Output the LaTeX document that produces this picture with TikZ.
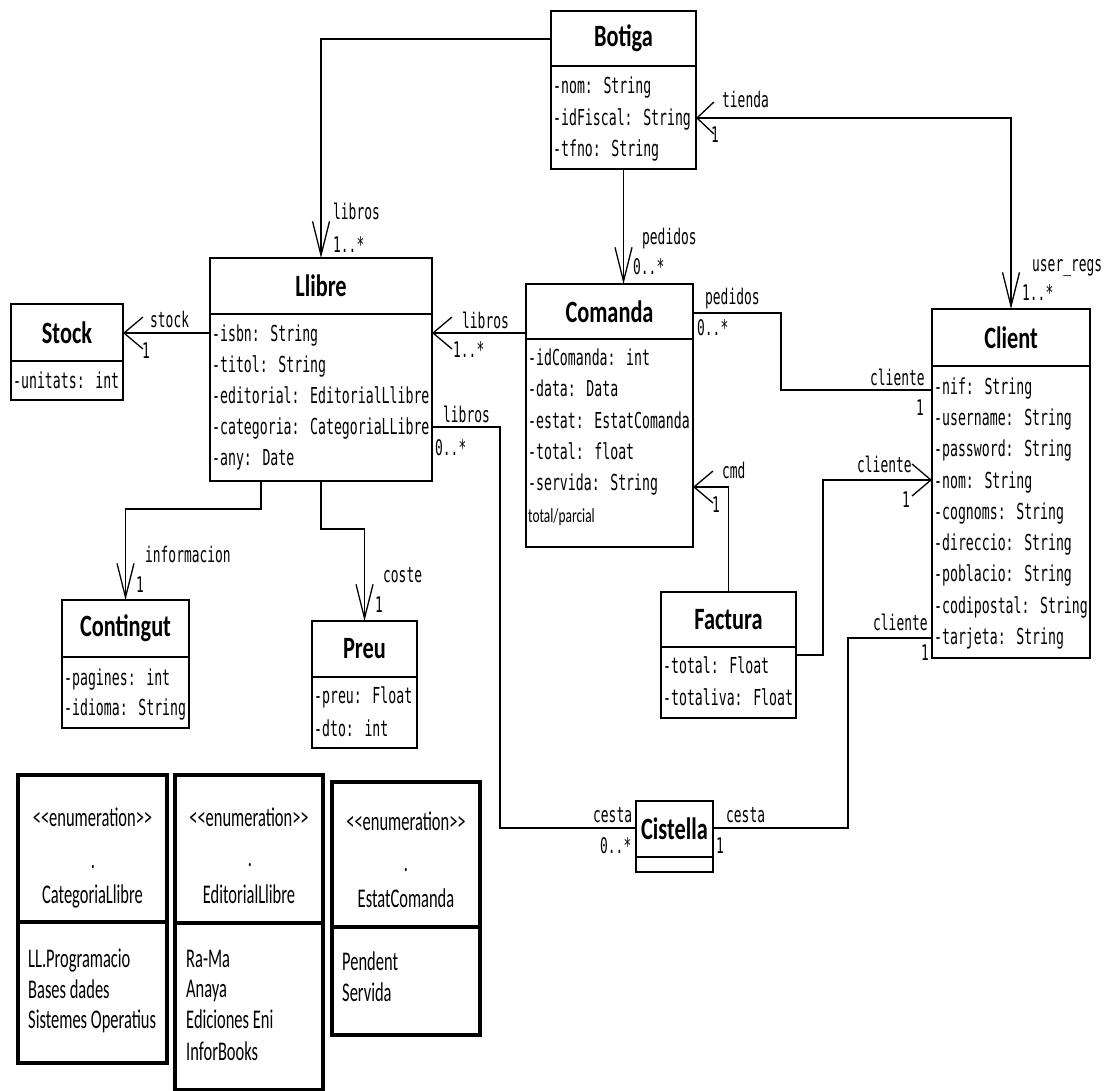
\documentclass[tikz,border=0pt]{standalone}
\usepackage{fontspec}
\usetikzlibrary{arrows.meta}
\newfontfamily\monof{DejaVu Sans Mono}[FakeStretch=0.6]
\newfontfamily\ttlf{Carlito}[FakeStretch=0.72]
\newfontfamily\enf{Carlito}[FakeStretch=0.61]
\newfontfamily\smf{Carlito}[FakeStretch=0.67]
\tikzset{
  clsbox/.style={draw, line width=1.4pt, inner sep=0pt, outer sep=0pt},
  clsline/.style={line width=1.4pt},
  clstitle/.style={font=\ttlf\bfseries\fontsize{31}{31}\selectfont, inner sep=0pt},
  attr/.style={font=\monof\fontsize{22}{24}\selectfont, inner sep=0pt, anchor=base west},
  lbl/.style={font=\monof\fontsize{21.5}{24}\selectfont, inner sep=0pt, anchor=base west},
  smalltxt/.style={font=\smf\fontsize{20}{24}\selectfont, inner sep=0pt, anchor=base west},
  enumbox/.style={draw, line width=3.5pt, inner sep=0pt, outer sep=0pt},
  enumline/.style={line width=3.5pt},
  enumtxt/.style={font=\enf\fontsize{27}{30}\selectfont, inner sep=0pt, anchor=base},
  enumitem/.style={font=\enf\fontsize{27}{30}\selectfont, inner sep=0pt, anchor=base west},
  assoc/.style={line width=1.3pt},
  harr/.style={assoc, -{Straight Barb[length=19pt,width=32pt]}},
  varr/.style={assoc, -{Straight Barb[length=34pt,width=17pt]}},
  hvarr/.style={assoc, {Straight Barb[length=17pt,width=32pt]}-{Straight Barb[length=34pt,width=17pt]}}
}
% name, x1, y1, x2, y2, ysep, title
\newcommand{\umlcls}[7]{%
  \node[clsbox, minimum width={#4-#2}, minimum height={#5-#3}] (#1) at ({(#2+#4)/2},{(#3+#5)/2}) {};
  \draw[clsline] (#2,#6) -- (#4,#6);
  \node[clstitle] (#1T) at ({(#2+#4)/2},{(#3+#6)/2}) {#7};
}
\newcommand{\attrib}[4]{\node[attr] (#1) at (#2,#3) {#4};}
\newcommand{\lab}[4]{\node[lbl] (#1) at (#2,#3) {#4};}
\begin{document}
\begin{tikzpicture}[x=1pt,y=-1pt]
\fill[white] (0,0) rectangle (1105,1091);
\useasboundingbox (0,0) rectangle (1105,1091);

% ---- classes
\umlcls{Botiga}{551}{11}{696}{169}{66}{Botiga}
\attrib{bo1}{553}{94}{-nom: String}
\attrib{bo2}{553}{126}{-idFiscal: String}
\attrib{bo3}{553}{157}{-tfno: String}

\umlcls{Llibre}{210}{258}{432}{481}{314}{Llibre}
\attrib{ll1}{212}{341}{-isbn: String}
\attrib{ll2}{212}{372}{-titol: String}
\attrib{ll3}{212}{403}{-editorial: EditorialLlibre}
\attrib{ll4}{212}{434}{-categoria: CategoriaLLibre}
\attrib{ll5}{212}{465}{-any: Date}

\umlcls{Stock}{11}{304}{123}{400}{361}{Stock}
\attrib{st1}{13}{388}{-unitats: int}

\umlcls{Comanda}{526}{284}{693}{547}{339}{Comanda}
\attrib{co1}{528}{365}{-idComanda: int}
\attrib{co2}{528}{396}{-data: Data}
\attrib{co3}{528}{428}{-estat: EstatComanda}
\attrib{co4}{528}{459}{-total: float}
\attrib{co5}{528}{490}{-servida: String}
\node[smalltxt] (co6) at (528,522) {total/parcial};

\umlcls{Client}{932}{309}{1090}{658}{366}{Client}
\attrib{cl1}{934}{394}{-nif: String}
\attrib{cl2}{934}{425}{-username: String}
\attrib{cl3}{934}{456}{-password: String}
\attrib{cl4}{934}{488}{-nom: String}
\attrib{cl5}{934}{519}{-cognoms: String}
\attrib{cl6}{934}{550}{-direccio: String}
\attrib{cl7}{934}{581}{-poblacio: String}
\attrib{cl8}{934}{613}{-codipostal: String}
\attrib{cl9}{934}{644}{-tarjeta: String}

\umlcls{Contingut}{62}{600}{189}{728}{657}{Contingut}
\attrib{cn1}{64}{685}{-pagines: int}
\attrib{cn2}{64}{715}{-idioma: String}

\umlcls{Preu}{312}{621}{417}{748}{677}{Preu}
\attrib{pr1}{314}{703}{-preu: Float}
\attrib{pr2}{314}{736}{-dto: int}

\umlcls{Factura}{661}{592}{796}{718}{647}{Factura}
\attrib{fa1}{663}{673}{-total: Float}
\attrib{fa2}{663}{705}{-totaliva: Float}

\umlcls{Cistella}{636}{801}{713}{872}{857}{Cistella}

% ---- associations
\draw[varr] ([yshift=-28pt]Botiga.north west) -| (Llibre.north);
\lab{l1a}{333}{220}{libros}
\lab{l1b}{333}{253}{1..*}

\draw[varr] (Botiga.south) -- (Botiga.south |- Comanda.north);
\lab{l2a}{642}{245}{pedidos}
\lab{l2b}{633}{275}{0..*}

\draw[hvarr] ([yshift=-107pt]Botiga.north east) -| (Client.north);
\lab{l3a}{722}{108}{tienda}
\lab{l3b}{711}{143}{1}
\lab{l3c}{1032}{272}{user\_regs}
\lab{l3d}{1022}{300}{1..*}

\draw[harr] ([yshift=-75pt]Llibre.north west) -- ([yshift=-29pt]Stock.north east);
\lab{l4a}{150}{327}{stock}
\lab{l4b}{142}{358}{1}

\draw[harr] ([yshift=-49pt]Comanda.north west) -- ([yshift=-75pt]Llibre.north east);
\lab{l5a}{462}{328}{libros}
\lab{l5b}{453}{357}{1..*}

\draw[assoc] ([yshift=-169pt]Llibre.north east) -- ++(68,0) |- ([yshift=-27pt]Cistella.north west);
\lab{l6a}{443}{422}{libros}
\lab{l6b}{435}{455}{0..*}
\lab{l6c}{593}{822}{cesta}
\lab{l6d}{600}{853}{0..*}

\draw[assoc] ([yshift=-27pt]Cistella.north east) -- ++(135,0) |- ([yshift=-329pt]Client.north west);
\lab{l7a}{726}{822}{cesta}
\lab{l7b}{716}{853}{1}
\lab{l7c}{873}{630}{cliente}
\lab{l7d}{921}{660}{1}

\draw[assoc] ([yshift=-29pt]Comanda.north east) -- ++(88,0) |- ([yshift=-81pt]Client.north west);
\lab{l8a}{705}{305}{pedidos}
\lab{l8b}{697}{335}{0..*}
\lab{l8c}{870}{385}{cliente}
\lab{l8d}{916}{415}{1}

\draw[harr] (Factura.north) |- ([yshift=-203pt]Comanda.north east);
\lab{l9a}{722}{478}{cmd}
\lab{l9b}{712}{512}{1}

\draw[harr] ([yshift=-63pt]Factura.north east) -- ++(27,0) |- ([yshift=-171pt]Client.north west);
\lab{l10a}{857}{472}{cliente}
\lab{l10b}{902}{507}{1}

\draw[varr] ([xshift=51pt]Llibre.south west) -- ++(0,28) -| (Contingut.north);
\lab{l11a}{145}{562}{informacion}
\lab{l11b}{136}{592}{1}

\draw[varr] (Llibre.south) -- ++(0,48) -| (Preu.north);
\lab{l12a}{383}{582}{coste}
\lab{l12b}{375}{612}{1}

% ---- enumerations
\node[enumbox, minimum width=149, minimum height=288] (enCat) at (92.5,919) {};
\draw[enumline] (18,922) -- (167,922);
\node[enumtxt] (enCat1) at (92.5,826) {<<enumeration>>};
\node[enumtxt] (enCat2) at (93,868) {.};
\node[enumtxt] (enCat3) at (92.5,903) {CategoriaLlibre};
\node[enumitem] (enCat4) at (28,967) {LL.Programacio};
\node[enumitem] (enCat5) at (28,998) {Bases dades};
\node[enumitem] (enCat6) at (28,1028) {Sistemes Operatius};

\node[enumbox, minimum width=148, minimum height=315] (enEd) at (249,932.5) {};
\draw[enumline] (175,923) -- (323,923);
\node[enumtxt] (enEd1) at (249,826) {<<enumeration>>};
\node[enumtxt] (enEd2) at (250,866) {.};
\node[enumtxt] (enEd3) at (249,903) {EditorialLlibre};
\node[enumitem] (enEd4) at (186,967) {Ra-Ma};
\node[enumitem] (enEd5) at (186,997) {Anaya};
\node[enumitem] (enEd6) at (186,1028) {Ediciones Eni};
\node[enumitem] (enEd7) at (186,1060) {InforBooks};

\node[enumbox, minimum width=148, minimum height=253] (enEs) at (406,908.5) {};
\draw[enumline] (332,927) -- (480,927);
\node[enumtxt] (enEs1) at (406,830) {<<enumeration>>};
\node[enumtxt] (enEs2) at (406,871) {.};
\node[enumtxt] (enEs3) at (406,907) {EstatComanda};
\node[enumitem] (enEs4) at (342,970) {Pendent};
\node[enumitem] (enEs5) at (342,1001) {Servida};
\end{tikzpicture}
\end{document}
